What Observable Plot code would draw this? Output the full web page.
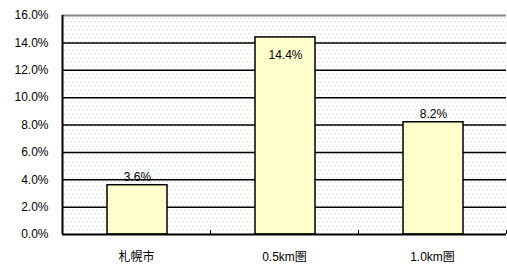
<!DOCTYPE html>
<html><head><meta charset="utf-8">
<script src="https://cdn.jsdelivr.net/npm/d3@7"></script>
<script src="https://cdn.jsdelivr.net/npm/@observablehq/plot@0.6"></script>
<style>body{margin:0;background:#fff}</style>
</head><body><div id="chart"></div>
<script>
const categories = ["札幌市", "0.5km圏", "1.0km圏"];
const values = [3.6, 14.4, 8.2];
const yTicks = [0, 2, 4, 6, 8, 10, 12, 14, 16];

const data = categories.map((c, i) => ({cat: c, i, value: values[i]}));
const font = "'Liberation Sans', 'Noto Sans CJK JP', sans-serif";
const inside = d => d.value > 13;

const chart = Plot.plot({
  width: 507, height: 265,
  marginLeft: 62, marginRight: 1, marginTop: 15, marginBottom: 31,
  style: {fontFamily: font, fontSize: "12px", color: "#000", background: "#fff"},
  x: {domain: [0, 3], axis: null},
  y: {domain: [0, 16], axis: null},
  marks: [
    Plot.frame({fill: "url(#dots)", stroke: null}),
    Plot.ruleY(yTicks.filter(d => d > 0 && d < 16), {stroke: "#000", strokeWidth: 1.5}),
    Plot.ruleY([16], {stroke: "#888", strokeWidth: 2}),
    Plot.rectY(data, {x1: d => d.i, x2: d => d.i + 1, y: "value", fill: "#ffffcc", stroke: "#000", strokeWidth: 1.5, insetLeft: 45, insetRight: 43}),
    Plot.text(data, {filter: d => !inside(d), x: d => d.i + 0.5, y: "value", text: d => d.value.toFixed(1) + "%", dx: 1, dy: -8, fontSize: 12, letterSpacing: 0.5}),
    Plot.text(data, {filter: inside, x: d => d.i + 0.5, y: "value", text: d => d.value.toFixed(1) + "%", dx: 1, dy: 18, fontSize: 12, letterSpacing: 0.5}),
    Plot.axisY({ticks: yTicks, tickSize: 0, tickPadding: 14, tickFormat: d => d.toFixed(1) + "%", fontSize: 12, label: null}),
    Plot.axisX({ticks: [0, 1, 2, 3], tickSize: -4, tickFormat: () => "", stroke: "#000", label: null}),
    Plot.axisX({ticks: categories.map((c, i) => i + 0.5), tickSize: 0, tickPadding: 18, tickFormat: d => categories[Math.floor(d)], fontSize: 12, label: null}),
    Plot.ruleY([0], {stroke: "#000", strokeWidth: 2}),
    Plot.ruleX([0], {stroke: "#000", strokeWidth: 2})
  ]
});

const defs = d3.select(chart).insert("defs", ":first-child");
const pat = defs.append("pattern").attr("id", "dots").attr("patternUnits", "userSpaceOnUse")
  .attr("width", 4).attr("height", 8);
pat.append("rect").attr("width", 4).attr("height", 8).attr("fill", "#fff");
pat.append("rect").attr("x", 0).attr("y", 1).attr("width", 1).attr("height", 1).attr("fill", "#c0c0c0");
pat.append("rect").attr("x", 2).attr("y", 5).attr("width", 1).attr("height", 1).attr("fill", "#c0c0c0");

document.getElementById("chart").appendChild(chart);
</script>
</body></html>
